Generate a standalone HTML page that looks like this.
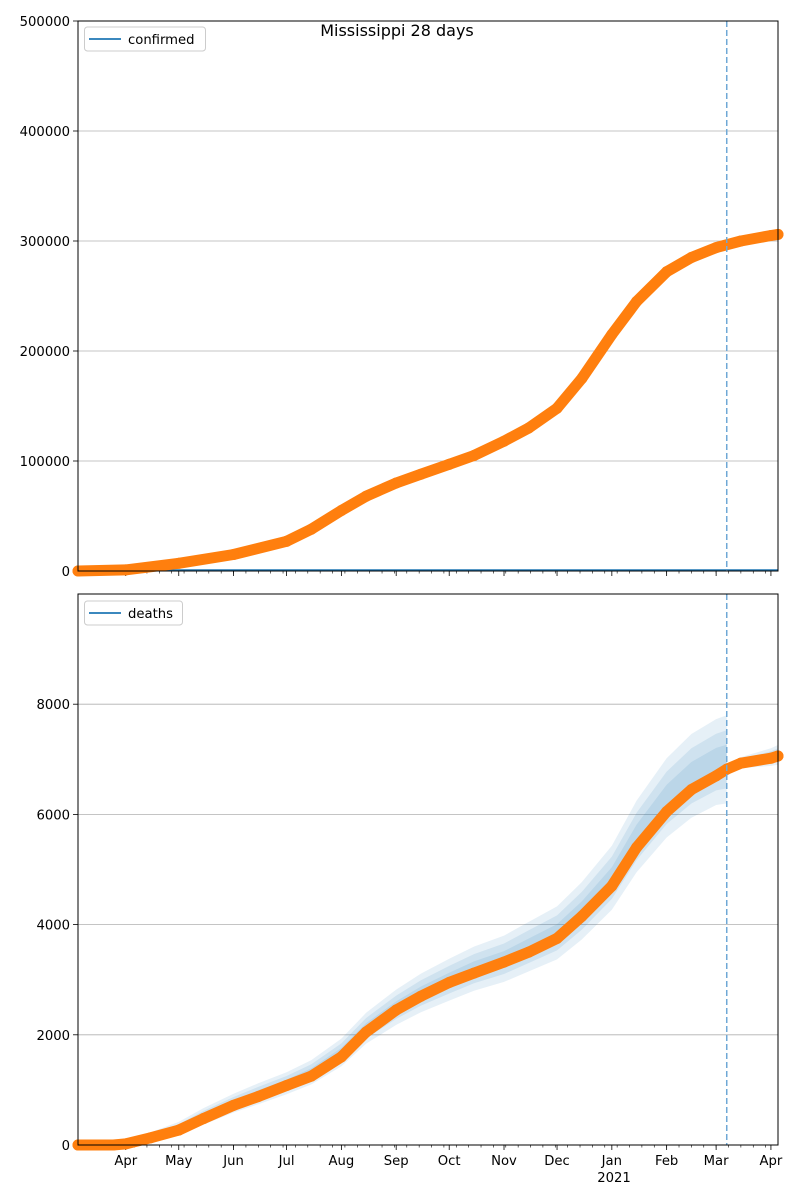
<!DOCTYPE html>
<html><head><meta charset="utf-8"><style>
body{margin:0;background:#fff;}
svg{display:block;font-family:"DejaVu Sans","Liberation Sans",sans-serif;}
</style></head><body>
<svg id="c" width="800" height="1200" xmlns="http://www.w3.org/2000/svg"></svg>
<script>
// ---- data ----
const confDates = ["2020-03-05","2020-04-01","2020-05-01","2020-06-01","2020-07-01","2020-07-15","2020-08-01","2020-08-15","2020-09-01","2020-09-15","2020-10-01","2020-10-15","2020-11-01","2020-11-15","2020-12-01","2020-12-15","2021-01-01","2021-01-15","2021-02-01","2021-02-15","2021-03-01","2021-03-15","2021-04-01","2021-04-05"];
const confValues = [0,1000,7000,15000,27000,38000,55000,68000,80000,88000,97000,105000,118000,130000,148000,175000,215000,245000,272000,285000,294000,300000,305000,306000];
const deathDates = ["2020-03-05","2020-03-25","2020-04-01","2020-04-15","2020-05-01","2020-05-15","2020-06-01","2020-06-15","2020-07-01","2020-07-15","2020-08-01","2020-08-15","2020-09-01","2020-09-15","2020-10-01","2020-10-15","2020-11-01","2020-11-15","2020-12-01","2020-12-15","2021-01-01","2021-01-15","2021-02-01","2021-02-15","2021-03-01","2021-03-07","2021-03-15","2021-04-01","2021-04-05"];
const deathValues = [0,0,20,130,270,480,720,880,1080,1250,1600,2050,2450,2700,2950,3120,3320,3500,3750,4150,4700,5400,6050,6450,6700,6820,6930,7020,7060];
const bandDates = ["2020-03-05","2020-03-25","2020-04-01","2020-04-15","2020-05-01","2020-05-15","2020-06-01","2020-06-15","2020-07-01","2020-07-15","2020-08-01","2020-08-15","2020-09-01","2020-09-15","2020-10-01","2020-10-15","2020-11-01","2020-11-15","2020-12-01","2020-12-15","2021-01-01","2021-01-15","2021-02-01","2021-02-15","2021-03-01","2021-03-07"];
const bandCenter = [0,0,30,150,300,520,760,930,1120,1320,1680,2120,2500,2760,3000,3200,3380,3600,3850,4250,4850,5600,6300,6700,6950,7000];
const bandWidth = [0,10,30,80,120,150,170,190,200,220,250,280,320,350,380,400,420,450,480,520,580,650,720,760,780,800];
const fcDates = ["2021-03-07","2021-03-15","2021-04-01","2021-04-05"];
const fcCenter = [6820,6940,7040,7080];
const fcWidth = [60,100,160,180];
const vlineDate = "2021-03-07";
const confTicks = [0,100000,200000,300000,400000,500000];
const deathTicks = [0,2000,4000,6000,8000];
const monthLabels = ["Apr","May","Jun","Jul","Aug","Sep","Oct","Nov","Dec","Jan","Feb","Mar","Apr"];
const monthDates = ["2020-04-01","2020-05-01","2020-06-01","2020-07-01","2020-08-01","2020-09-01","2020-10-01","2020-11-01","2020-12-01","2021-01-01","2021-02-01","2021-03-01","2021-04-01"];

const svg=document.getElementById('c');
const NS="http://www.w3.org/2000/svg";
function mk(t,a,p){const e=document.createElementNS(NS,t);for(const k in a)e.setAttribute(k,a[k]);(p||svg).appendChild(e);return e;}
const X0=78,X1=778,D0=Date.UTC(2020,2,5),D1=Date.UTC(2021,3,5);
function day(s){const p=s.split('-');return (Date.UTC(+p[0],+p[1]-1,+p[2])-D0)/864e5;}
const TOT=(D1-D0)/864e5;
function x(s){return X0+day(s)/TOT*(X1-X0);}
function yC(v){return 571-v/500000*550;}
function yD(v){return 1145-v/10000*551;}

function axes(top,bot,yf,ticks,name,showLabels){
  const g=mk('g',{});
  
  
  ticks.forEach(t=>{
    const yy=yf(t);
    if(t>0&&yy>top+1){const l=mk('line',{x1:X0,x2:X1,y1:yy,y2:yy,stroke:'#b0b0b0','stroke-width':0.8},g);
    }
    mk('line',{x1:X0-5,x2:X0,y1:yy,y2:yy,stroke:'#000','stroke-width':0.8},g);
    const tx=mk('text',{x:X0-8,y:yy+5,'text-anchor':'end','font-size':13.2},g);
    tx.textContent=t;
    
  });
  for(let d=4;d<TOT;d+=7){const xx=X0+d/TOT*(X1-X0);mk('line',{x1:xx,x2:xx,y1:bot,y2:bot+2.5,stroke:'#000','stroke-width':0.6},g);}
  mk('line',{x1:X0,x2:X0,y1:bot,y2:bot+5,stroke:'#000','stroke-width':0.8},g);
  monthDates.forEach((m,i)=>{
    const xx=x(m);
    mk('line',{x1:xx,x2:xx,y1:bot,y2:bot+5,stroke:'#000','stroke-width':0.8},g);
    if(showLabels){const tx=mk('text',{x:xx,y:bot+20,'text-anchor':'middle','font-size':13.2},g);
    tx.textContent=monthLabels[i];}
  });
  return g;
}
function frame(top,bot,name){const r=mk('rect',{x:X0,y:top,width:X1-X0,height:bot-top,fill:'none',stroke:'#000','stroke-width':1});
 }
function series(dates,vals,yf,name){
  const pts=dates.map((d,i)=>x(d)+','+yf(vals[i])).join(' ');
  const pl=mk('polyline',{points:pts,fill:'none',stroke:'#ff7f0e','stroke-width':11,'stroke-linejoin':'round','stroke-linecap':'round'});
  
  dates.forEach((d,i)=>{const c=mk('circle',{cx:x(d),cy:yf(vals[i]),r:5.5,fill:'#ff7f0e'});
  });
}
function legend(y0,label,w,name){
  const g=mk('g',{});
  mk('rect',{x:84.5,y:y0,width:w,height:24,rx:3,fill:'#fff',stroke:'#ccc'},g);
  mk('line',{x1:89,x2:121,y1:y0+12,y2:y0+12,stroke:'#1f77b4','stroke-width':1.8},g);
  const t=mk('text',{x:128,y:y0+17,'font-size':13.2},g);t.textContent=label;
}
function band(dates,center,width,f,name){
  const up=[],dn=[];
  dates.forEach((d,i)=>{up.push(x(d)+','+yD(center[i]+width[i]*f));dn.unshift(x(d)+','+yD(center[i]-width[i]*f));});
  const p=mk('path',{d:'M'+up.join('L')+'L'+dn.join('L')+'Z',fill:'#1f77b4','fill-opacity':0.11});
  
}
// top
axes(21,571,yC,confTicks,'confirmed',false);
const zl=mk('line',{x1:X0,x2:X1,y1:570,y2:570,stroke:'#1f77b4','stroke-width':1.5});

series(confDates,confValues,yC,'confirmed');
let vl=mk('line',{x1:x(vlineDate),x2:x(vlineDate),y1:21,y2:571,stroke:'#6fa8d6','stroke-width':1.5,'stroke-dasharray':'6,3'});

frame(21,571,'confirmed');
legend(27,'confirmed',121,'confirmed-legend');
const title=mk('text',{x:397,y:36,'text-anchor':'middle','font-size':16});
title.textContent='Mississippi 28 days';
// bottom
axes(594,1145,yD,deathTicks,'deaths',true);
[1,0.66,0.33].forEach((f,k)=>{
  band(bandDates,bandCenter,bandWidth,f,'deaths-band-'+k);
  band(fcDates,fcCenter,fcWidth,f,'deaths-forecast-band-'+k);
});
series(deathDates,deathValues,yD,'deaths');
vl=mk('line',{x1:x(vlineDate),x2:x(vlineDate),y1:594,y2:1145,stroke:'#6fa8d6','stroke-width':1.5,'stroke-dasharray':'6,3'});

frame(594,1145,'deaths');
legend(601,'deaths',98,'deaths-legend');
const yr=mk('text',{x:614,y:1182,'text-anchor':'middle','font-size':13.2});
yr.textContent='2021';
</script>
</body></html>
